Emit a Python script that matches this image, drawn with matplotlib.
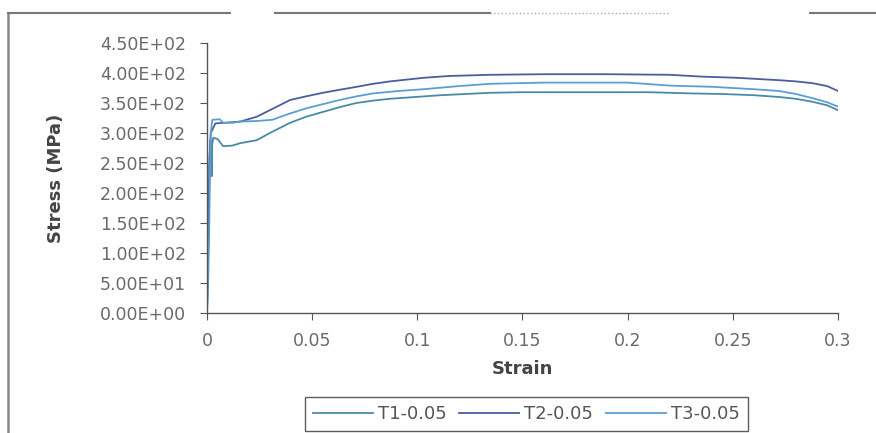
import matplotlib
matplotlib.use("Agg")
import matplotlib.pyplot as plt
from matplotlib.lines import Line2D
from matplotlib.ticker import FuncFormatter, MultipleLocator

# tensile test curves, three specimens
t1_strain = [0, 0.0008, 0.0012, 0.0016, 0.0020, 0.0022, 0.0024, 0.003, 0.005, 0.0077, 0.012,
             0.0157, 0.0236, 0.031, 0.0395, 0.047, 0.055, 0.063, 0.071, 0.079, 0.087, 0.099,
             0.111, 0.123, 0.1345, 0.15, 0.17, 0.19, 0.21, 0.23, 0.245, 0.26, 0.272, 0.28,
             0.288, 0.295, 0.3]
t1_stress = [0, 150, 250, 288, 285, 228, 280, 292, 290, 278, 279,
             283, 288, 302, 317, 327, 335, 343, 350, 354, 357, 360,
             363, 365, 367, 368, 368, 368, 368, 366, 365, 363, 360, 357,
             352, 346, 338]

t2_strain = [0, 0.0008, 0.0012, 0.0018, 0.004, 0.008, 0.012, 0.0157, 0.0236, 0.031, 0.0395,
             0.047, 0.055, 0.063, 0.0712, 0.079, 0.087, 0.095, 0.103, 0.115, 0.1345, 0.16,
             0.19, 0.22, 0.235, 0.252, 0.262, 0.272, 0.28, 0.288, 0.295, 0.3]
t2_stress = [0, 160, 260, 300, 316, 317, 318, 319, 327, 340, 355,
             361, 367, 372, 377, 382, 386, 389, 392, 395, 397, 398,
             398, 397, 394, 392, 390, 388, 386, 383, 378, 370]

t3_strain = [0, 0.0006, 0.001, 0.0014, 0.0018, 0.0025, 0.006, 0.0077, 0.012, 0.0157, 0.0236,
             0.031, 0.039, 0.047, 0.055, 0.063, 0.071, 0.079, 0.091, 0.103, 0.119, 0.1345,
             0.16, 0.2, 0.22, 0.24, 0.26, 0.272, 0.28, 0.288, 0.295, 0.3]
t3_stress = [0, 60, 130, 230, 300, 322, 323, 317, 317, 319, 320,
             322, 332, 341, 348, 355, 361, 366, 370, 373, 378, 382,
             384, 384, 379, 377, 373, 370, 365, 358, 351, 344]

labels = ["T1-0.05", "T2-0.05", "T3-0.05"]
colors = ["#4a8aa6", "#4b5d9c", "#5b9fd2"]

plt.rcParams["font.family"] = "DejaVu Sans"

fig = plt.figure(figsize=(8.76, 4.33), dpi=100)
ax = fig.add_axes([0.2363, 0.2771, 0.7203, 0.6236])

ax.plot(t1_strain, t1_stress, color=colors[0], lw=1.3, label=labels[0])
ax.plot(t2_strain, t2_stress, color=colors[1], lw=1.3, label=labels[1])
ax.plot(t3_strain, t3_stress, color=colors[2], lw=1.3, label=labels[2])

ax.set_xlim(0, 0.3)
ax.set_ylim(0, 450)
ax.xaxis.set_major_locator(MultipleLocator(0.05))
ax.yaxis.set_major_locator(MultipleLocator(50))
ax.xaxis.set_major_formatter(FuncFormatter(lambda v, p: "0" if v == 0 else ("%g" % round(v, 2))))
ax.yaxis.set_major_formatter(FuncFormatter(lambda v, p: "%.2E" % v))

for s in ["top", "right"]:
    ax.spines[s].set_visible(False)
for s in ["left", "bottom"]:
    ax.spines[s].set_color("#555555")
    ax.spines[s].set_linewidth(1.0)

ax.tick_params(axis="both", direction="out", length=5, color="#555555",
               labelsize=12.5, labelcolor="#6a6a6a")
ax.tick_params(axis="y", pad=10)
ax.tick_params(axis="x", pad=9)

ax.set_xlabel("Strain", fontsize=13, fontweight="bold", color="#444444", labelpad=7)
ax.set_ylabel("Stress (MPa)", fontsize=13, fontweight="bold", color="#444444", labelpad=25)

leg = fig.legend(loc="upper center", bbox_to_anchor=(0.601, 0.083), ncol=3, fontsize=13,
                 frameon=True, fancybox=False, handlelength=3.3, handletextpad=0.3,
                 columnspacing=0.7, borderpad=0.45, borderaxespad=0)
leg.get_frame().set_edgecolor("#333333")
leg.get_frame().set_linewidth(1.0)
for t in leg.get_texts():
    t.set_color("#555555")

# outer chart frame (partly visible)
fig.add_artist(Line2D([8 / 876, 8 / 876], [0, 1 - 13 / 433], transform=fig.transFigure,
                      color="#888888", lw=1.8))
for x0, x1 in [(8, 230), (275, 490), (810, 876)]:
    fig.add_artist(Line2D([x0 / 876, x1 / 876], [1 - 13 / 433, 1 - 13 / 433],
                          transform=fig.transFigure, color="#777777", lw=1.5))
fig.add_artist(Line2D([490 / 876, 670 / 876], [1 - 13 / 433, 1 - 13 / 433],
                      transform=fig.transFigure, color="#aaaaaa", lw=1.0, ls=":"))

fig.savefig("out.png", dpi=100, facecolor="white")
